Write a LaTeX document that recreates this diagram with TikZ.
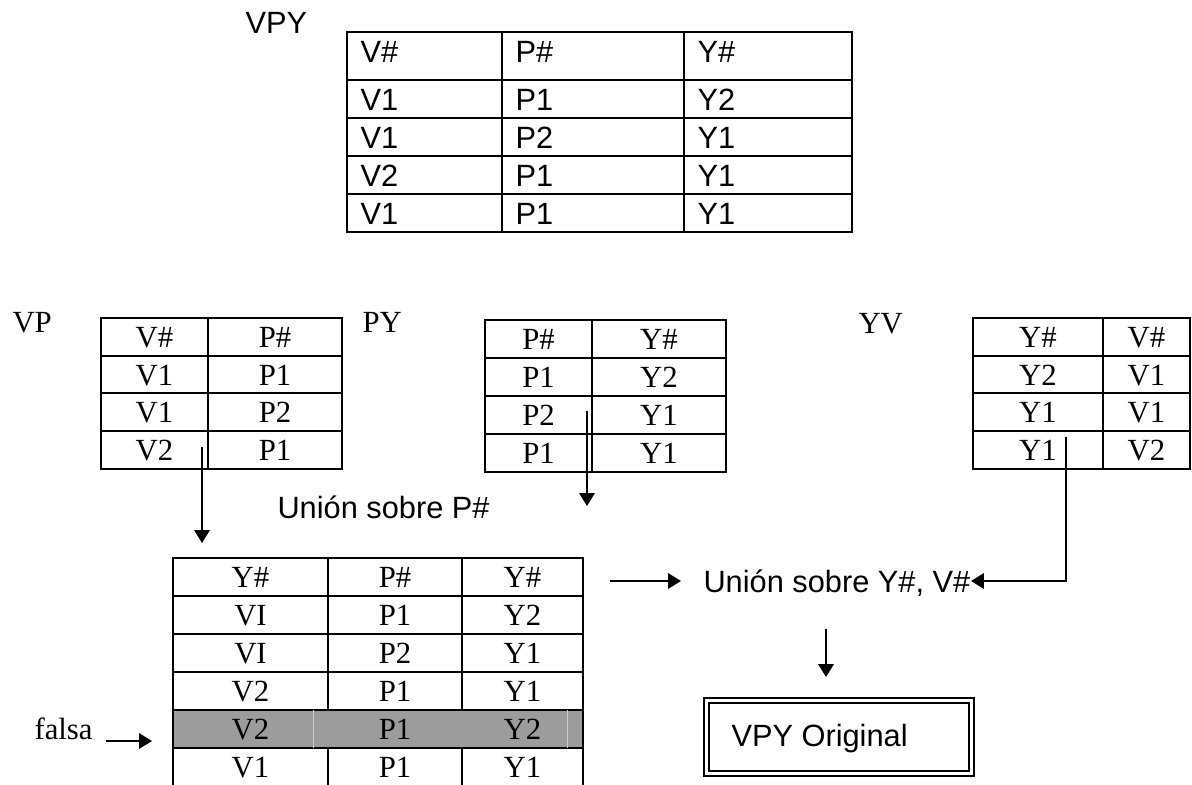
\documentclass[tikz,border=0pt]{standalone}
\usepackage{fontspec}
\setmainfont{Liberation Serif}
\newfontfamily\arialf{Liberation Sans}
\usetikzlibrary{arrows.meta}
\definecolor{rowgray}{gray}{0.61}
\definecolor{cellsep}{gray}{0.80}
\begin{document}
\begin{tikzpicture}[x=0.39pt,y=-0.39pt,
  grid/.style={line width=0.9pt, line cap=rect},
  conn/.style={line width=0.6pt, -{Triangle[length=5pt,width=6pt]}},
  sans/.style={font=\arialf\fontsize{12}{14}\selectfont, inner sep=0pt},
  serif/.style={font=\fontsize{12}{14}\selectfont, inner sep=0pt},
]
\useasboundingbox (0,0) rectangle (1192,784);

% ---- relation VPY (top) ----
\node[sans, anchor=base west] (lblVPY) at (245,33) {VPY};
\foreach \y in {32,80,118,156,194,232} \draw[grid] (347,\y) -- (852,\y);
\foreach \x in {347,502,684,852} \draw[grid] (\x,32) -- (\x,232);
\foreach \r/\bl/\a/\b/\c in {h/62/V\#/P\#/Y\#, 1/110/V1/P1/Y2, 2/148/V1/P2/Y1, 3/186/V2/P1/Y1, 4/224/V1/P1/Y1} {
  \node[sans, anchor=base west] (vpy-\r-a) at (360,\bl) {\a};
  \node[sans, anchor=base west] (vpy-\r-b) at (515,\bl) {\b};
  \node[sans, anchor=base west] (vpy-\r-c) at (697,\bl) {\c};
}

% ---- projection VP ----
\node[serif, anchor=base west] (lblVP) at (12,332) {VP};
\foreach \y in {318,356,393,431,469} \draw[grid] (101,\y) -- (342,\y);
\foreach \x in {101,208,342} \draw[grid] (\x,318) -- (\x,469);
\foreach \r/\bl/\a/\b in {h/347/V\#/P\#, 1/385/V1/P1, 2/422/V1/P2, 3/460/V2/P1} {
  \node[serif, anchor=base] (vp-\r-a) at (154.5,\bl) {\a};
  \node[serif, anchor=base] (vp-\r-b) at (275,\bl) {\b};
}

% ---- projection PY ----
\node[serif, anchor=base west] (lblPY) at (362,332) {PY};
\foreach \y in {320,358,396,434,472} \draw[grid] (485,\y) -- (726,\y);
\foreach \x in {485,592,726} \draw[grid] (\x,320) -- (\x,472);
\foreach \r/\bl/\a/\b in {h/349/P\#/Y\#, 1/387/P1/Y2, 2/425/P2/Y1, 3/463/P1/Y1} {
  \node[serif, anchor=base] (py-\r-a) at (538.5,\bl) {\a};
  \node[serif, anchor=base] (py-\r-b) at (659,\bl) {\b};
}

% ---- projection YV ----
\node[serif, anchor=base west] (lblYV) at (858,333) {YV};
\foreach \y in {318,356,393,431,469} \draw[grid] (973,\y) -- (1190,\y);
\foreach \x in {973,1103,1190} \draw[grid] (\x,318) -- (\x,469);
\foreach \r/\bl/\a/\b in {h/347/Y\#/V\#, 1/385/Y2/V1, 2/422/Y1/V1, 3/460/Y1/V2} {
  \node[serif, anchor=base] (yv-\r-a) at (1038,\bl) {\a};
  \node[serif, anchor=base] (yv-\r-b) at (1146.5,\bl) {\b};
}

% ---- join over P# ----
\node[sans, anchor=base west] (joinP) at (277,518) {Unión sobre P\#};
\coordinate (vpOut) at (202,447);
\coordinate (vpIn)  at (202,543);
\coordinate (pyOut) at (587,411);
\coordinate (pyIn)  at (587,506);
\draw[conn] (vpOut) -- (vpIn);
\draw[conn] (pyOut) -- (pyIn);

% ---- joined relation ----
\fill[rowgray] (173,710) rectangle (583,748);
\foreach \y in {558,596,634,672,710,748} \draw[grid] (173,\y) -- (583,\y);
\foreach \x in {173,583} \draw[grid] (\x,558) -- (\x,790);
\foreach \x in {328,462} {
  \draw[grid] (\x,558) -- (\x,710);
  \draw[grid] (\x,748) -- (\x,790);
}
\draw[cellsep, line width=0.3pt] (313,710) -- (313,748);
\draw[cellsep, line width=0.3pt] (567,710) -- (567,748);
\foreach \r/\bl/\a/\b/\c in {h/587/Y\#/P\#/Y\#, 1/625/VI/P1/Y2, 2/663/VI/P2/Y1, 3/701/V2/P1/Y1, 4/739/V2/P1/Y2, 5/777/V1/P1/Y1} {
  \node[serif, anchor=base] (jn-\r-a) at (250.5,\bl) {\a};
  \node[serif, anchor=base] (jn-\r-b) at (395,\bl) {\b};
  \node[serif, anchor=base] (jn-\r-c) at (522.5,\bl) {\c};
}

% spurious tuple marker
\node[serif, anchor=base west] (falsa) at (34,739) {falsa};
\coordinate (falsaOut) at (106,741);
\coordinate (falsaIn)  at (152,741);
\draw[conn] (falsaOut) -- (falsaIn);

% ---- join over Y#, V# ----
\node[sans, anchor=base west] (joinYV) at (703,592) {Unión sobre Y\#, V\#};
\coordinate (jnOut) at (610,581);
\coordinate (jnIn)  at (681,581);
\draw[conn] (jnOut) -- (jnIn);
\coordinate (yvOut) at (1066,437);
\coordinate (yvIn)  at (971,581);
\draw[conn] (yvOut) |- (yvIn);

% ---- result ----
\coordinate (resOut) at (826,629);
\coordinate (resIn)  at (826,677);
\draw[conn] (resOut) -- (resIn);
\draw[line width=0.8pt] (704,698) rectangle (974,776);
\draw[line width=0.6pt] (709,703) rectangle (969,771);
\node[sans, anchor=base west] (result) at (731,746) {VPY Original};
\end{tikzpicture}
\end{document}
